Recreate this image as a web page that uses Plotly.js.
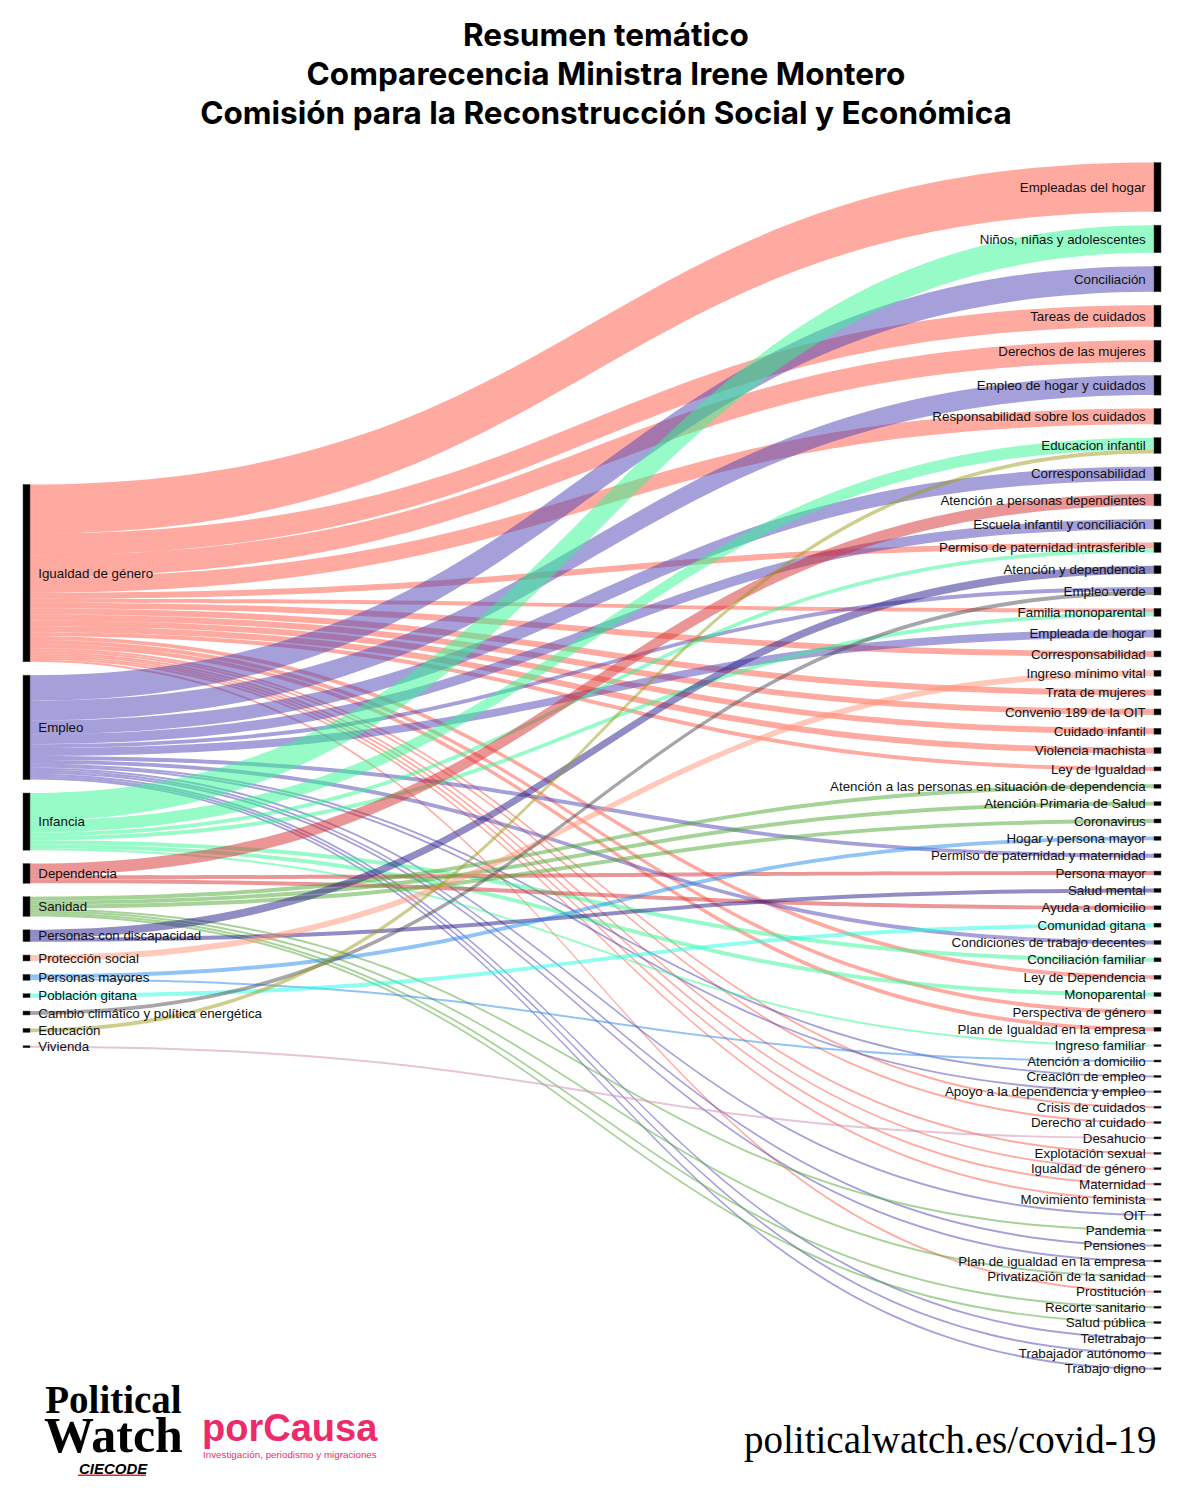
<!DOCTYPE html>
<html><head><meta charset="utf-8">
<script src="https://cdn.plot.ly/plotly-3.0.1.min.js"></script>
<style>html,body{margin:0;padding:0;background:#fff}</style></head>
<body><div id="chart" style="width:1200px;height:1498px"></div>
<script>
const leftNodes=["Igualdad de género","Empleo","Infancia","Dependencia","Sanidad","Personas con discapacidad","Protección social","Personas mayores","Población gitana","Cambio climático y política energética","Educación","Vivienda"];
const rightNodes=["Empleadas del hogar","Niños, niñas y adolescentes","Conciliación","Tareas de cuidados","Derechos de las mujeres","Empleo de hogar y cuidados","Responsabilidad sobre los cuidados","Educacion infantil","Corresponsabilidad","Atención a personas dependientes","Escuela infantil y conciliación","Permiso de paternidad intrasferible","Atención y dependencia","Empleo verde","Familia monoparental","Empleada de hogar","Corresponsabilidad","Ingreso mínimo vital","Trata de mujeres","Convenio 189 de la OIT","Cuidado infantil","Violencia machista","Ley de Igualdad","Atención a las personas en situación de dependencia","Atención Primaria de Salud","Coronavirus","Hogar y persona mayor","Permiso de paternidad y maternidad","Persona mayor","Salud mental","Ayuda a domicilio","Comunidad gitana","Condiciones de trabajo decentes","Conciliación familiar","Ley de Dependencia","Monoparental","Perspectiva de género","Plan de Igualdad en la empresa","Ingreso familiar","Atención a domicilio","Creación de empleo","Apoyo a la dependencia y empleo","Crisis de cuidados","Derecho al cuidado","Desahucio","Explotación sexual","Igualdad de género","Maternidad","Movimiento feminista","OIT","Pandemia","Pensiones","Plan de igualdad en la empresa","Privatización de la sanidad","Prostitución","Recorte sanitario","Salud pública","Teletrabajo","Trabajador autónomo","Trabajo digno"];
// target positions (1-based in rightNodes) and mention counts, per left node
const igualdadTargets=[1,4,5,7,12,15,17,19,20,21,22,23,35,37,38,43,44,46,47,48,49,55];
const igualdadValues=[25,11,11,8,3,2,3,3,3,3,3,2,2,2,2,1,1,1,1,1,1,1];
const empleoTargets=[3,6,9,11,14,16,28,33,41,42,50,52,53,58,59,60];
const empleoValues=[13,10,7,5,2,4,2,2,1,1,1,1,1,1,1,1];
const infanciaTargets=[2,8,12,15,34,36,39];
const infanciaValues=[14,6,2,2,2,2,1];
const dependenciaTargets=[10,29,31];
const dependenciaValues=[6,2,2];
const sanidadTargets=[24,25,26,51,54,56,57];
const sanidadValues=[2,2,2,1,1,1,1];
const discapacidadTargets=[13,30];
const discapacidadValues=[4,2];
const proteccionTargets=[18];
const proteccionValues=[3];
const mayoresTargets=[27,40];
const mayoresValues=[2,1];
const gitanaTargets=[32];
const gitanaValues=[2];
const climaTargets=[14];
const climaValues=[2];
const educacionTargets=[8];
const educacionValues=[2];
const viviendaTargets=[45];
const viviendaValues=[1];
const linkColors=["rgba(255,85,65,0.5)","rgba(75,65,181,0.5)","rgba(47,247,145,0.5)","rgba(215,45,45,0.5)","rgba(75,165,45,0.5)","rgba(35,25,135,0.5)","rgba(255,145,115,0.5)","rgba(35,135,235,0.5)","rgba(25,255,225,0.5)","rgba(75,75,85,0.5)","rgba(155,155,25,0.5)","rgba(205,135,175,0.5)"];
const titleLines=["Resumen temático","Comparecencia Ministra Irene Montero","Comisión para la Reconstrucción Social y Económica"];

const groups=[[igualdadTargets,igualdadValues],[empleoTargets,empleoValues],[infanciaTargets,infanciaValues],[dependenciaTargets,dependenciaValues],[sanidadTargets,sanidadValues],[discapacidadTargets,discapacidadValues],[proteccionTargets,proteccionValues],[mayoresTargets,mayoresValues],[gitanaTargets,gitanaValues],[climaTargets,climaValues],[educacionTargets,educacionValues],[viviendaTargets,viviendaValues]];
const source=[],target=[],value=[],color=[];
const nL=leftNodes.length,nR=rightNodes.length;
const totals=new Array(nL+nR).fill(0);
groups.forEach((g,i)=>g[0].forEach((t,j)=>{const k=nL+t-1;source.push(i);target.push(k);value.push(g[1][j]);color.push(linkColors[i]);totals[i]+=g[1][j];totals[k]+=g[1][j];}));

const W=1200,H=1498;
const TOP=162.5,BOTTOM=1369.7,LEFT=23,RIGHT=1161,PAD=13.415,THICK=7;
const sumR=totals.slice(nL).reduce((a,b)=>a+b,0),sumL=totals.slice(0,nL).reduce((a,b)=>a+b,0);
const k=((BOTTOM-TOP)-(nR-1)*PAD)/sumR;
// stack each column in reading order, the left column centred on the right one
const nodeX=[],nodeY=[];
const stack=(from,to,start,xf)=>{let y=start;for(let i=from;i<to;i++){const h=totals[i]*k;nodeX[i]=xf;nodeY[i]=(y+h/2)/(BOTTOM-TOP);y+=h+PAD;}};
const hL=sumL*k+(nL-1)*PAD;
stack(0,nL,((BOTTOM-TOP)-hL)/2,(THICK/2)/(RIGHT-LEFT));
stack(nL,nL+nR,0,1-(THICK/2)/(RIGHT-LEFT));

const px=v=>v/W, py=v=>1-v/H;
const ann=(text,x,y,xanchor,size,fam,col)=>({text,x:px(x),y:py(y),xref:'paper',yref:'paper',xanchor,yanchor:'middle',showarrow:false,font:{size,family:fam,color:col}});
Plotly.newPlot('chart',[{
  type:'sankey',orientation:'h',arrangement:'fixed',
  domain:{x:[px(LEFT),px(RIGHT)],y:[py(BOTTOM),py(TOP)]},
  node:{label:leftNodes.concat(rightNodes),x:nodeX,y:nodeY,color:'black',thickness:THICK,pad:PAD,line:{color:'#444',width:0.5}},
  link:{source,target,value,color},
  textfont:{family:'"Liberation Sans",Arial,sans-serif',size:13.33,color:'#111',shadow:'none'}
}],{
  width:W,height:H,paper_bgcolor:'#fff',
  margin:{l:0,r:0,t:0,b:0,pad:0},
  title:{text:'<b>'+titleLines.map(l=>'<span style="font-size:31.5px">'+l+'</span>').join('<br>')+'</b>',x:0.505,xanchor:'center',y:py(46),yanchor:'middle',font:{family:'Inter,sans-serif',size:30,color:'#000'}},
  annotations:[
    ann('politicalwatch.es/covid-19',1159,1440,'right',39,'"Liberation Serif",serif','#000'),
    ann('<b><span style="font-size:39px">Political</span><br><span style="font-size:50px">Watch</span></b>',113,1420,'center',30,'"Liberation Serif",serif','#000'),
    ann('<b><i>CIECODE</i></b>',113,1468,'center',15,'"Liberation Sans",sans-serif','#000'),
    ann('<b>porCausa</b>',290,1428,'center',38,'"Liberation Sans",sans-serif','#EE2A6B'),
    ann('Investigación, periodismo y migraciones',290,1454,'center',9.8,'"Liberation Sans",sans-serif','#EE2A6B')
  ],
  shapes:[{type:'rect',xref:'paper',yref:'paper',x0:px(78),x1:px(146),y0:py(1476),y1:py(1474.4),fillcolor:'#D0312D',line:{width:0}}]
},{displayModeBar:false}).then(()=>{
  // the reference sets node labels further from their node than the library's default
  document.querySelectorAll('.node-label').forEach(t=>{
    const b=t.getBoundingClientRect();
    const dx=(b.left+b.right)/2<W/2?5:-5;
    t.setAttribute('transform','translate('+dx+',0) '+(t.getAttribute('transform')||''));
  });
});
</script></body></html>
